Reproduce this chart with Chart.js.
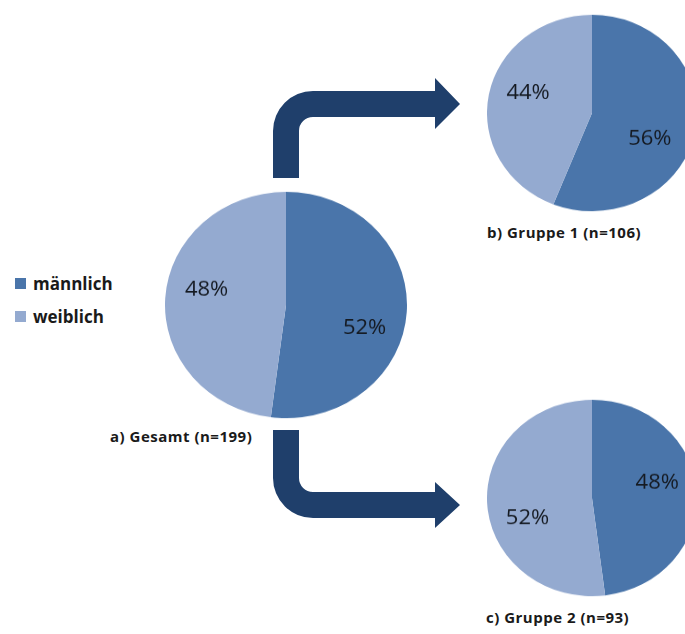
<!DOCTYPE html>
<html>
<head>
<meta charset="utf-8">
<script src="https://cdn.jsdelivr.net/npm/chart.js@4"></script>
<style>
  html, body { margin: 0; padding: 0; background: #fff; }
  body { width: 685px; height: 634px; position: relative; overflow: hidden; font-family: "Open Sans", Lato, sans-serif; color: #1a1a1a; }
  .pie { position: absolute; transform: scaleY(0.935); transform-origin: 50% 50%; }
  .caption { position: absolute; font-weight: bold; font-size: 15px; letter-spacing: 0.5px; white-space: nowrap; line-height: 16px; }
  #legend { position: absolute; left: 15px; top: 267px; }
  .leg { display: flex; align-items: center; height: 33px; font-weight: bold; font-size: 17px; }
  .leg span.box { width: 11px; height: 11px; margin-right: 7px; }
  svg { position: absolute; left: 0; top: 0; }
</style>
</head>
<body>

<svg width="685" height="634">
  <path fill="#1F3F6B" d="M 273 178 L 273 131 A 40 40 0 0 1 313 91 L 435 91 L 435 78 L 460 104 L 435 129 L 435 117 L 313 117 A 14 14 0 0 0 299 131 L 299 178 Z"/>
  <path fill="#1F3F6B" d="M 273 430 L 299 430 L 299 478 A 14 14 0 0 0 313 492 L 435 492 L 435 482 L 460 505 L 435 528 L 435 518 L 313 518 A 40 40 0 0 1 273 478 Z"/>
</svg>

<div class="pie" style="left:165px; top:184px; width:242px; height:242px;"><canvas id="pieGesamt"></canvas></div>
<div class="pie" style="left:487px; top:8px; width:210px; height:210px;"><canvas id="pieGruppe1"></canvas></div>
<div class="pie" style="left:487px; top:393px; width:210px; height:210px;"><canvas id="pieGruppe2"></canvas></div>

<div class="caption" id="capA" style="left:110px; top:428px;"></div>
<div class="caption" id="capB" style="left:487px; top:224px;"></div>
<div class="caption" id="capC" style="left:486px; top:609px;"></div>

<div id="legend"></div>

<script>
// Daten
const categories = ['männlich', 'weiblich'];
const gesamt = [52, 48];
const gruppe1 = [56, 44];
const gruppe2 = [48, 52];
const captions = ['a) Gesamt (n=199)', 'b) Gruppe 1 (n=106)', 'c) Gruppe 2 (n=93)'];
const colors = ['#4A75AA', '#94AAD0'];

// Beschriftungen der Segmente (Prozent)
const percentLabels = {
    id: 'percentLabels',
    afterDatasetsDraw(chart, args, opts) {
        const ctx = chart.ctx;
        const meta = chart.getDatasetMeta(0);
        const values = chart.data.datasets[0].data;
        ctx.save();
        ctx.font = '22px "Open Sans", Lato, sans-serif';
        ctx.fillStyle = '#151a22';
        ctx.textAlign = 'center';
        ctx.textBaseline = 'middle';
        meta.data.forEach((arc, i) => {
            const mid = (arc.startAngle + arc.endAngle) / 2 + (opts.shift[i] || 0) * Math.PI / 180;
            const r = arc.outerRadius * (opts.radius[i] || 0.65);
            ctx.fillText(values[i] + '%', arc.x + Math.cos(mid) * r, arc.y + Math.sin(mid) * r);
        });
        ctx.restore();
    }
};

function makePie(id, values, shift, radius) {
    const ctx = document.getElementById(id).getContext('2d');
    return new Chart(ctx, {
        type: 'pie',
        data: {
            labels: categories,
            datasets: [{
                data: values,
                backgroundColor: colors,
                borderWidth: 0,
                hoverOffset: 0
            }]
        },
        options: {
            responsive: true,
            maintainAspectRatio: false,
            animation: false,
            events: [],
            layout: { padding: 0 },
            plugins: {
                legend: { display: false },
                tooltip: { enabled: false },
                percentLabels: { shift: shift, radius: radius }
            }
        },
        plugins: [percentLabels]
    });
}

makePie('pieGesamt', gesamt, [13.7, 7.9], [0.68, 0.67]);
makePie('pieGruppe1', gruppe1, [14.7, 7.2], [0.61, 0.64]);
makePie('pieGruppe2', gruppe2, [-10.2, -15.4], [0.64, 0.65]);

document.getElementById('capA').textContent = captions[0];
document.getElementById('capB').textContent = captions[1];
document.getElementById('capC').textContent = captions[2];

// Legende
const legend = document.getElementById('legend');
categories.forEach((cat, i) => {
    const row = document.createElement('div');
    row.className = 'leg';
    row.innerHTML = `<span class="box" style="background:${colors[i]}"></span>${cat}`;
    legend.appendChild(row);
});
</script>
</body>
</html>
